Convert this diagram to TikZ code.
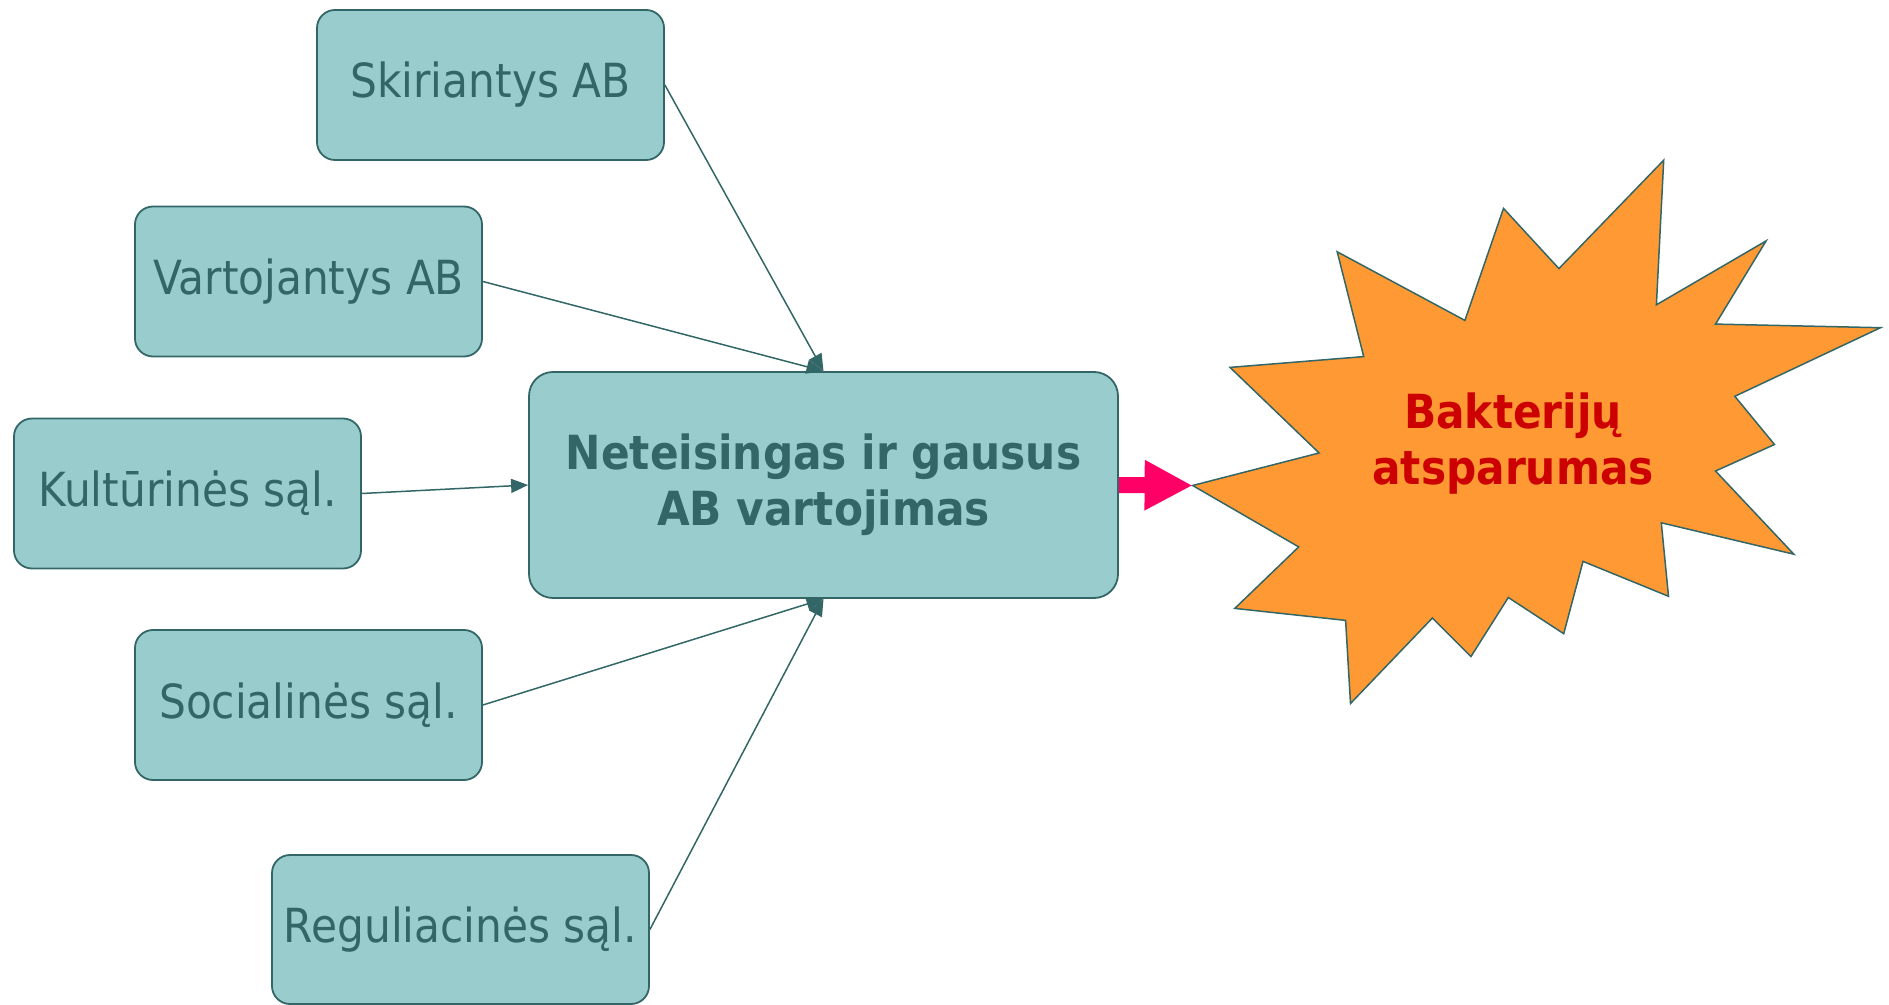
\documentclass[tikz,border=0pt]{standalone}
\usepackage{fontspec}
\setmainfont{DejaVu Sans}[FakeStretch=0.9]
\usetikzlibrary{arrows.meta}
\definecolor{tealline}{HTML}{336666}
\definecolor{tealfill}{HTML}{99CCCC}
\definecolor{burstfill}{HTML}{FF9933}
\definecolor{burstred}{HTML}{CC0000}
\definecolor{arrowpink}{HTML}{FF0066}
\tikzset{
  factor/.style={draw=tealline, fill=tealfill, line width=0.9pt, rounded corners=9pt,
    text=tealline, minimum width=173.5pt, minimum height=75pt, inner sep=0pt,
    font=\fontsize{23.5}{28}\selectfont},
  feed/.style={draw=tealline, line width=0.75pt, -{Triangle[length=8.5pt,width=7pt]}},
}

\begin{document}
\begin{tikzpicture}[x=0.5pt,y=-0.5pt]
        \useasboundingbox (0,0) rectangle (1889,1005);
        \node[factor] (skir) at (490.5,85) {Skiriantys AB};
        \node[factor] (vart) at (308.5,281.5) {Vartojantys AB};
        \node[factor] (kult) at (187.5,493.5) {Kultūrinės sąl.};
        \node[factor] (soc) at (308.5,705) {Socialinės sąl.};
        \node[factor, minimum width=188.5pt, minimum height=74.5pt] (reg) at (460.5,929.5) {Reguliacinės sąl.};
        \node[factor, minimum width=294.5pt, minimum height=113pt, align=center, rounded corners=12pt,
            font=\fontsize{23.5}{28}\selectfont\bfseries] (main) at (823.5,485) {Neteisingas ir gausus\\AB vartojimas};

        \draw[feed] (skir.east) -- (main.north);
        \draw[feed] (vart.east) -- (main.north);
        \draw[feed] (kult.east) -- (main.west);
        \draw[feed] (soc.east) -- (main.south);
        \draw[feed] (reg.east) -- (main.south);

        \draw[tealline, fill=burstfill, line width=0.75pt]
            (1192.6,485.5) -- (1319.1,453.0) -- (1230.0,367.4) -- (1363.7,356.6)
            -- (1337.2,251.8) -- (1464.9,320.4) -- (1503.5,208.4) -- (1558.9,268.6)
            -- (1663.7,160.2) -- (1656.4,304.8) -- (1766.1,240.9) -- (1715.5,324.1)
            -- (1880.5,327.7) -- (1734.8,396.3) -- (1774.5,444.5) -- (1715.5,471.0)
            -- (1793.8,554.2) -- (1661.3,522.8) -- (1668.5,596.3) -- (1583.0,561.4)
            -- (1563.7,633.7) -- (1508.3,597.5) -- (1470.9,656.6) -- (1432.4,618.0)
            -- (1350.5,703.5) -- (1345.6,620.4) -- (1234.8,608.4) -- (1298.7,546.9)
            -- cycle;
        \coordinate (tip) at (1192.6,485.5);
        \node[text=burstred, align=center, font=\fontsize{23.5}{28}\selectfont\bfseries] (burst) at (1513,444) {Bakterijų\\atsparumas};

        \draw[arrowpink, line width=8pt, -{Triangle[length=24pt,width=23.5pt]}] (main.east) -- (tip);
    \end{tikzpicture}
\end{document}
